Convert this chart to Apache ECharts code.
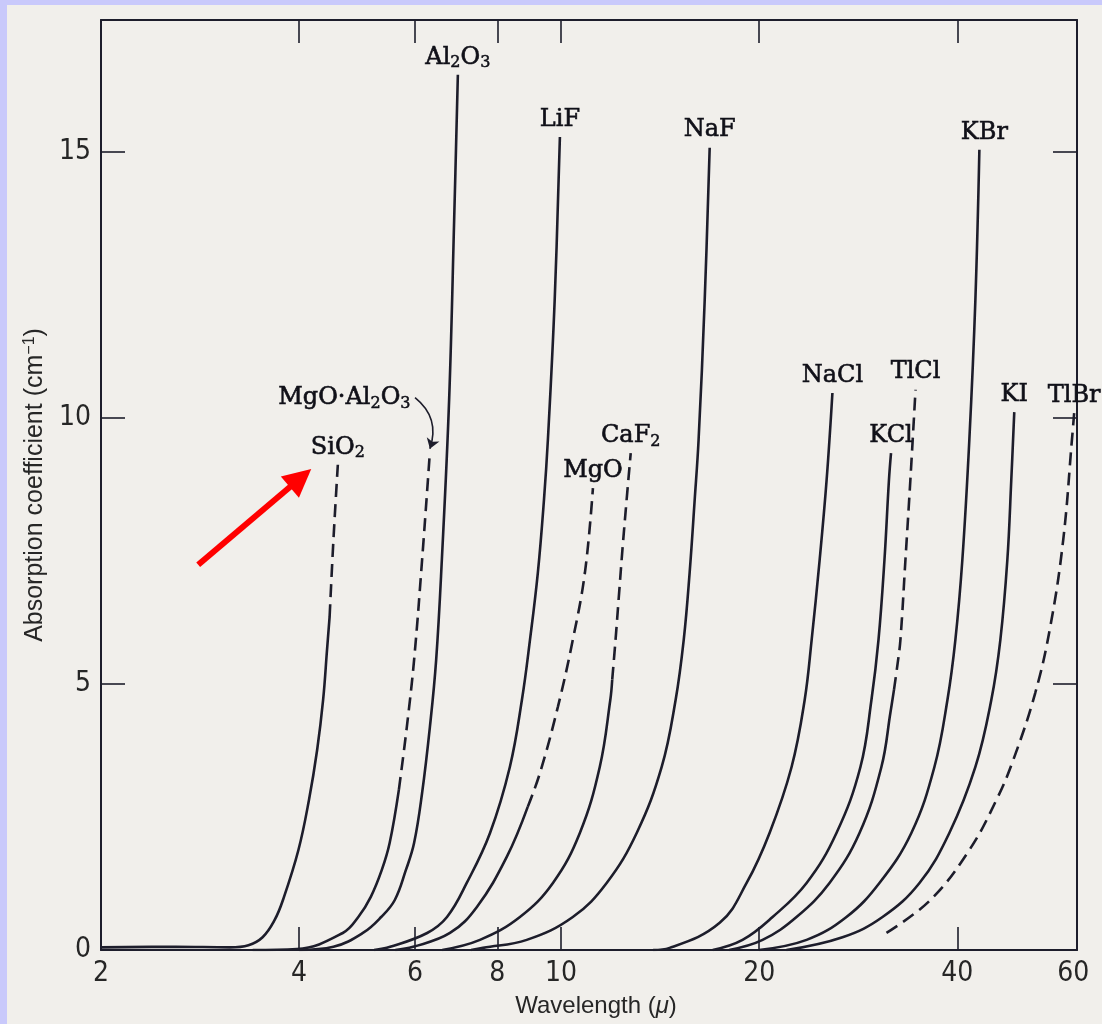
<!DOCTYPE html>
<html><head><meta charset="utf-8">
<script src="https://cdn.jsdelivr.net/npm/echarts@6/dist/echarts.min.js"></script>
<style>
html,body{margin:0;padding:0;background:#c9c9fb;width:1102px;height:1024px;overflow:hidden}
#c{position:absolute;left:7px;top:5px;width:1095px;height:1019px;background:#f1efeb}
</style></head><body><div id="c"></div>
<script>
// ---- tick values ----
const xTickLabels = [2, 4, 6, 8, 10, 20, 40, 60];
const xTicks = [4, 6, 8, 10, 20, 40];
const yTickLabels = [0, 5, 10, 15];
const yTicks = [5, 10, 15];

// ---- curves: [wavelength (µ), absorption coefficient (cm^-1)] ----
const SiO2_solid = [[2.0,0.05],[2.6,0.06],[3.14,0.05],[3.35,0.09],[3.52,0.24],[3.67,0.56],[3.78,0.94],[3.99,1.88],[4.14,2.82],[4.26,3.76],[4.35,4.7],[4.41,5.64],[4.45,6.26]];
const SiO2_dashed = [[4.45,6.26],[4.51,7.71],[4.58,9.12]];
const MgOAl2O3_solid = [[3.4,0],[3.97,0.02],[4.66,0.32],[4.92,0.62],[5.14,1.0],[5.34,1.5],[5.49,2.01],[5.67,3.01]];
const MgOAl2O3_dashed = [[5.67,3.01],[5.83,4.19],[5.98,5.45],[6.15,7.33],[6.32,9.36]];
const Al2O3_solid = [[4.0,0],[4.51,0.06],[5.0,0.32],[5.33,0.62],[5.59,0.94],[5.81,1.5],[5.98,2.01],[6.15,2.95],[6.32,4.19],[6.46,5.45],[6.59,7.33],[6.76,10.34],[6.88,13.72],[6.97,16.45]];
const LiF_solid = [[5.2,0],[5.5,0.06],[6.26,0.32],[6.71,0.62],[7.19,1.26],[7.8,2.2],[8.36,3.44],[8.72,4.7],[8.97,5.83],[9.22,7.09],[9.42,8.46],[9.55,9.59],[9.78,12.22],[9.96,15.28]];
const MgO_solid = [[5.6,0],[5.96,0.06],[6.78,0.32],[7.45,0.81],[8.27,1.75],[8.9,2.69]];
const MgO_dashed = [[8.9,2.69],[9.29,3.33],[9.89,4.57],[10.42,5.83],[10.87,7.09],[11.18,8.68]];
const CaF2_solid = [[6.6,0],[7.53,0.19],[8.66,0.62],[9.72,1.26],[10.68,2.2],[11.45,3.44],[11.88,4.7],[11.96,5.08]];
const CaF2_dashed = [[11.96,5.08],[12.1,5.83],[12.23,6.58],[12.43,7.71],[12.76,9.34]];
const NaF_solid = [[7.3,0],[7.61,0.04],[8.87,0.19],[10.42,0.62],[11.73,1.26],[13.03,2.2],[14.22,3.44],[14.93,4.7],[15.36,5.83],[15.68,7.09],[15.96,8.46],[16.18,9.59],[16.53,12.22],[16.82,15.08]];
const NaCl_solid = [[13.8,0],[14.62,0.04],[17.42,0.51],[19.14,1.26],[20.74,2.2],[22.4,3.44],[23.45,4.7],[24.03,5.83],[24.71,7.33],[25.32,8.83],[25.84,10.47]];
const KCl_solid = [[17.0,0],[18.87,0.19],[20.96,0.62],[23.61,1.26],[26.21,2.2],[28.5,3.44],[29.62,4.7],[30.36,5.83],[31.0,7.33],[31.49,8.83],[31.72,9.34]];
const TlCl_solid = [[18.0,0],[20.24,0.19],[22.79,0.62],[25.58,1.26],[28.41,2.2],[30.67,3.44],[31.66,4.47],[32.05,4.89]];
const TlCl_dashed = [[32.05,4.89],[32.44,5.36],[32.78,5.83],[33.36,7.33],[33.94,8.83],[34.56,10.53]];
const KBr_solid = [[20.0,0],[23.61,0.19],[27.14,0.62],[30.46,1.26],[34.06,2.2],[36.92,3.44],[38.64,4.7],[39.73,5.83],[40.71,7.33],[41.72,9.59],[42.61,12.22],[43.21,15.04]];
const KI_solid = [[22.0,0],[26.77,0.24],[30.79,0.62],[35.04,1.26],[38.9,2.2],[42.61,3.44],[45.05,4.7],[46.5,5.83],[47.65,7.33],[48.31,8.83],[48.82,10.11]];
const TlBr_dashed = [[31.22,0.32],[36.4,0.94],[41.72,1.88],[45.86,2.82],[48.64,3.57],[52.53,4.83],[55.36,6.07],[57.94,7.71],[59.78,9.64],[60.2,10.09]];

// ---- annotations (data coordinates) ----
const mgoAl2O3Pointer = [[6.0,10.38],[6.32,9.42]];
const redArrow = [[2.81,7.24],[4.02,8.87]];

const materials = [
  {name:'SiO2', solid:SiO2_solid, dashed:SiO2_dashed},
  {name:'MgO·Al2O3', solid:MgOAl2O3_solid, dashed:MgOAl2O3_dashed, anchor: mgoAl2O3Pointer[0], pos:'left'},
  {name:'Al2O3', solid:Al2O3_solid},
  {name:'LiF', solid:LiF_solid},
  {name:'MgO', solid:MgO_solid, dashed:MgO_dashed},
  {name:'CaF2', solid:CaF2_solid, dashed:CaF2_dashed},
  {name:'NaF', solid:NaF_solid},
  {name:'NaCl', solid:NaCl_solid},
  {name:'KCl', solid:KCl_solid},
  {name:'TlCl', solid:TlCl_solid, dashed:TlCl_dashed},
  {name:'KBr', solid:KBr_solid, shift:[5,0]},
  {name:'KI', solid:KI_solid},
  {name:'TlBr', dashed:TlBr_dashed}
];

const INK = '#1d1d2b';
const TEXT = '#101018';
const TICKFONT = "'Liberation Sans Narrow','DejaVu Sans Condensed','Liberation Sans',sans-serif";
const NAMEFONT = "'Liberation Sans','DejaVu Sans',sans-serif";
const SERIF = "'DejaVu Serif',serif";

function chem(s){
  return s.replace(/([A-Za-z·]+)|(\d+)/g, (m, a, d) => a ? '{n|' + a + '}' : '{s|' + d + '}');
}

const series = [];
materials.forEach(m => {
  if (m.solid) series.push({type:'line', name:m.name, data:m.solid, showSymbol:false, smooth:0.4, silent:true, z:3,
    lineStyle:{color:INK, width:2.6}});
  if (m.dashed) series.push({type:'line', name:m.name + ' (dashed)', data:m.dashed, showSymbol:false, smooth:0.4, silent:true, z:3,
    lineStyle:{color:INK, width:2.6, type:[13,7]}});
});

const labelData = materials.map(m => {
  const pts = m.dashed || m.solid;
  const top = m.anchor || pts[pts.length - 1];
  const item = {name:m.name, value:top};
  if (m.pos) item.label = {position:m.pos, distance:4};
  if (m.shift) item.label = Object.assign(item.label || {}, {offset:m.shift});
  return item;
});

series.push({
  type:'scatter', name:'labels', data:labelData, symbolSize:1, itemStyle:{color:'rgba(0,0,0,0)'}, silent:true, z:5,
  label:{show:true, position:'top', distance:3, color:TEXT, opacity:1, formatter:p => chem(p.name),
    rich:{
      n:{fontFamily:SERIF, fontSize:24, color:TEXT, lineHeight:28, textBorderColor:TEXT, textBorderWidth:0.6},
      s:{fontFamily:SERIF, fontSize:16, color:TEXT, lineHeight:16, verticalAlign:'bottom', textBorderColor:TEXT, textBorderWidth:0.5}
    }}
});

series.push({
  type:'lines', coordinateSystem:'cartesian2d', silent:true, z:6,
  data:[{coords:mgoAl2O3Pointer}],
  symbol:['none','arrow'], symbolSize:[0,10],
  lineStyle:{color:INK, width:1.6, opacity:1, curveness:0.35}
});
series.push({
  type:'lines', coordinateSystem:'cartesian2d', silent:true, z:7,
  data:[{coords:redArrow}],
  symbol:['none','triangle'], symbolSize:[0,28],
  lineStyle:{color:'#ff0000', width:6, opacity:1}
});

const axisLineStyle = {color:INK, width:2};
const tickStyle = {color:INK, width:1.6};

const chart = echarts.init(document.getElementById('c'), null, {renderer:'canvas'});
chart.setOption({
  animation:false,
  backgroundColor:'#f1efeb',
  grid:{left:94, right:25, top:15, bottom:74, containLabel:false, outerBoundsMode:'none'},
  xAxis:[{
    type:'log', logBase:10, min:2, max:60.8, position:'bottom',
    axisLine:{show:true, onZero:false, lineStyle:axisLineStyle},
    axisTick:{show:true, inside:true, length:23, customValues:xTicks, lineStyle:tickStyle},
    axisLabel:{customValues:xTickLabels, margin:10, color:'#262626', fontSize:28, fontFamily:TICKFONT},
    splitLine:{show:false}, minorTick:{show:false}, minorSplitLine:{show:false},
    name:'{a|Wavelength (}{i|μ}{a|)}', nameLocation:'middle', nameGap:44,
    nameTextStyle:{padding:[0,0,0,14], rich:{
      a:{fontFamily:NAMEFONT, fontSize:24, color:'#262626'},
      i:{fontFamily:NAMEFONT, fontSize:24, color:'#262626', fontStyle:'italic'}
    }}
  },{
    type:'log', logBase:10, min:2, max:60.8, position:'top',
    axisLine:{show:true, onZero:false, lineStyle:axisLineStyle},
    axisTick:{show:true, inside:true, length:23, customValues:xTicks, lineStyle:tickStyle},
    axisLabel:{show:false}, splitLine:{show:false}
  }],
  yAxis:[{
    type:'value', min:0, max:17.48, position:'left',
    axisLine:{show:true, lineStyle:axisLineStyle},
    axisTick:{show:true, inside:true, length:24, customValues:yTicks, lineStyle:tickStyle},
    axisLabel:{customValues:yTickLabels, margin:10, color:'#262626', fontSize:28, fontFamily:TICKFONT},
    splitLine:{show:false},
    name:'{a|Absorption coefficient (cm}{s|−1}{a|)}', nameLocation:'middle', nameRotate:90, nameGap:50,
    nameTextStyle:{rich:{
      a:{fontFamily:NAMEFONT, fontSize:25, color:'#262626', lineHeight:28},
      s:{fontFamily:NAMEFONT, fontSize:16, color:'#262626', lineHeight:16, verticalAlign:'top'}
    }}
  },{
    type:'value', min:0, max:17.48, position:'right',
    axisLine:{show:true, lineStyle:axisLineStyle},
    axisTick:{show:true, inside:true, length:24, customValues:yTicks, lineStyle:tickStyle},
    axisLabel:{show:false}, splitLine:{show:false}
  }],
  series:series
});
</script></body></html>
